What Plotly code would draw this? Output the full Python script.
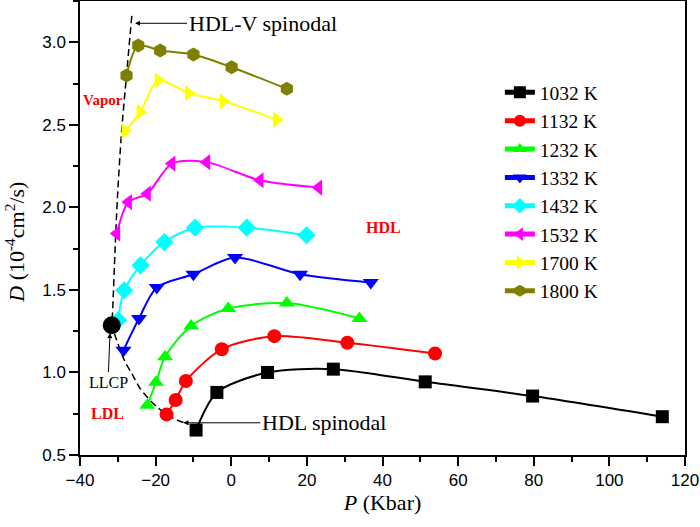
import plotly.graph_objects as go

# ---- data ----
names = ["1032 K", "1132 K", "1232 K", "1332 K", "1432 K", "1532 K", "1700 K", "1800 K"]
colors = ["#000000", "#FF0000", "#00FF00", "#0000FF", "#00FFFF", "#FF00FF", "#FFFF00", "#808000"]
symbols = ["square", "circle", "triangle-up", "triangle-down", "diamond", "triangle-left", "triangle-right", "hexagon"]

P_1032 = [-9.3, -3.8, 9.6, 27.0, 51.3, 79.7, 114.0]
D_1032 = [0.651, 0.879, 1.00, 1.02, 0.943, 0.857, 0.732]
P_1132 = [-17.1, -14.7, -12.0, -2.5, 11.4, 30.7, 53.9]
D_1132 = [0.746, 0.833, 0.948, 1.141, 1.22, 1.18, 1.115]
P_1232 = [-22.2, -19.9, -17.5, -10.6, -0.8, 14.7, 33.9]
D_1232 = [0.802, 0.94, 1.095, 1.282, 1.387, 1.42, 1.327]
P_1332 = [-28.5, -24.4, -19.7, -10.0, 1.0, 18.2, 36.9]
D_1332 = [1.135, 1.327, 1.515, 1.595, 1.696, 1.595, 1.545]
P_1432 = [-29.9, -28.3, -24.0, -17.7, -9.6, 4.1, 19.9]
D_1432 = [1.317, 1.498, 1.649, 1.79, 1.877, 1.877, 1.831]
P_1532 = [-30.3, -27.2, -22.2, -15.7, -6.5, 7.6, 23.1]
D_1532 = [1.841, 2.032, 2.083, 2.265, 2.274, 2.164, 2.12]
P_1700 = [-28.1, -24.1, -19.3, -11.3, -2.1, 12.0]
D_1700 = [2.462, 2.577, 2.769, 2.692, 2.643, 2.531]
P_1800 = [-27.7, -24.6, -18.8, -10.0, 0.1, 14.7]
D_1800 = [2.799, 2.98, 2.95, 2.926, 2.849, 2.718]

series_P = [P_1032, P_1132, P_1232, P_1332, P_1432, P_1532, P_1700, P_1800]
series_D = [D_1032, D_1132, D_1232, D_1332, D_1432, D_1532, D_1700, D_1800]

spin_P = [-26.3, -27.7, -29.0, -30.1, -30.7, -31.4, -31.6, -30.3, -28.1, -26.3, -24.1, -19.7, -15.3, -11.3]
spin_D = [3.16, 2.80, 2.46, 2.06, 1.76, 1.36, 1.29, 1.196, 1.065, 0.994, 0.903, 0.792, 0.722, 0.686]

llcp_P = [-31.6]
llcp_D = [1.286]

serif = "Liberation Serif"
sans = "Liberation Sans"

fig = go.Figure()

# spinodal dashed curve
fig.add_trace(go.Scatter(x=spin_P, y=spin_D, mode="lines",
                         line=dict(color="black", width=1.5, dash="7px,4px", shape="spline", smoothing=0.8),
                         showlegend=False, hoverinfo="skip"))

for nm, c, s, px, dy in zip(names, colors, symbols, series_P, series_D):
    fig.add_trace(go.Scatter(x=px, y=dy, mode="lines+markers", name=nm,
                             line=dict(color=c, width=2, shape="spline", smoothing=0.8),
                             marker=dict(symbol=s, color=c, size=14 if s != "square" else 13,
                                         line=dict(width=0))))

fig.add_trace(go.Scatter(x=llcp_P, y=llcp_D, mode="markers",
                         marker=dict(symbol="circle", color="black", size=18),
                         showlegend=False))

axis_common = dict(showline=True, linecolor="black", linewidth=1.5, mirror=True,
                   ticks="outside", ticklen=9, tickwidth=1.5, tickcolor="black",
                   showgrid=False, zeroline=False, automargin=False,
                   tickfont=dict(family=sans, size=17, color="black"))

fig.update_xaxes(range=[-40, 120], tick0=-40, dtick=20,
                 minor=dict(dtick=10, ticks="outside", ticklen=5, tickwidth=1.5, tickcolor="black"),
                 title=dict(text="<i>P</i> (Kbar)", font=dict(family=serif, size=22, color="black"), standoff=4),
                 **axis_common)
fig.update_yaxes(range=[0.5, 3.25], tick0=0.5, dtick=0.5, tickformat=".1f",
                 minor=dict(dtick=0.25, ticks="outside", ticklen=5, tickwidth=1.5, tickcolor="black"),
                 **axis_common)

# y-axis title as annotation
fig.add_annotation(text="<i>D</i> (10<sup>-4</sup>cm<sup>2</sup>/s)", xref="paper", yref="paper",
                   x=-0.108, y=0.469, xanchor="center", yanchor="middle", textangle=-90, showarrow=False,
                   font=dict(family=serif, size=22, color="black"))

# text labels
fig.add_annotation(text="HDL-V spinodal", x=-25.45, y=3.115, ax=52, ay=0, xanchor="left",
                   showarrow=True, arrowhead=2, arrowsize=1, arrowwidth=1, arrowcolor="black",
                   font=dict(family=serif, size=22, color="black"))
fig.add_annotation(text="HDL spinodal", x=-12.67, y=0.695, ax=77, ay=0, xanchor="left",
                   showarrow=True, arrowhead=2, arrowsize=1, arrowwidth=1, arrowcolor="black",
                   font=dict(family=serif, size=22, color="black"))
fig.add_annotation(text="LLCP", x=-32.06, y=1.238, ax=-2, ay=49,
                   showarrow=True, arrowhead=2, arrowsize=1, arrowwidth=1, arrowcolor="black",
                   font=dict(family=serif, size=16, color="black"))
fig.add_annotation(text="<b>Vapor</b>", x=-34.0, y=2.648, showarrow=False,
                   font=dict(family=serif, size=15, color="red"))
fig.add_annotation(text="<b>HDL</b>", x=40.2, y=1.881, showarrow=False,
                   font=dict(family=serif, size=16, color="red"))
fig.add_annotation(text="<b>LDL</b>", x=-32.6, y=0.754, showarrow=False,
                   font=dict(family=serif, size=16, color="red"))

fig.update_layout(width=700, height=527,
                  margin=dict(l=80, r=15, t=1, b=72, autoexpand=False),
                  plot_bgcolor="white", paper_bgcolor="white",
                  showlegend=True,
                  legend=dict(x=0.694, y=0.841, xanchor="left", yanchor="top",
                              bgcolor="rgba(0,0,0,0)", borderwidth=0,
                              font=dict(family=serif, size=19.5, color="black"),
                              tracegroupgap=0, itemsizing="constant"))

fig.write_html("out.html", config={"displayModeBar": False},
               post_script="document.body.style.margin='0';")
